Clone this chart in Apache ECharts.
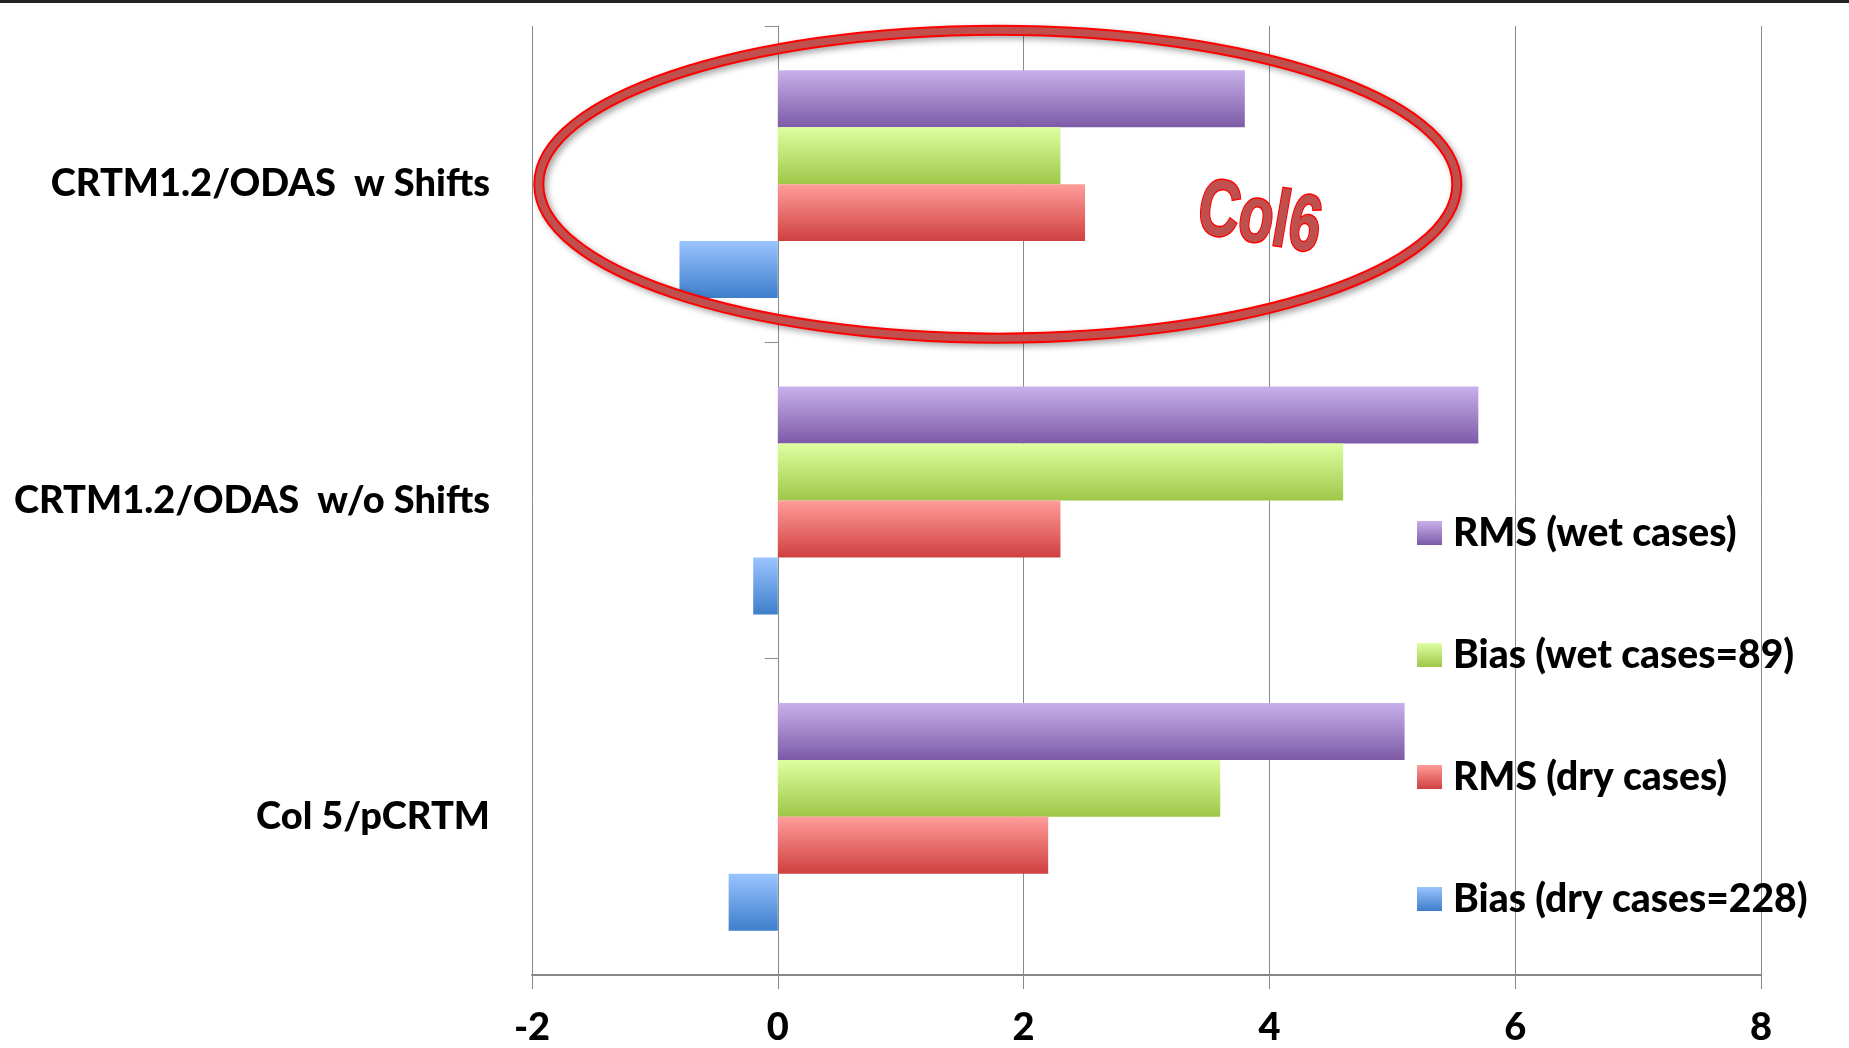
<!DOCTYPE html>
<html><head><meta charset="utf-8">
<script src="https://cdn.jsdelivr.net/npm/echarts@6/dist/echarts.min.js"></script>
<style>html,body{margin:0;padding:0;background:#fff}#c{width:1849px;height:1048px}</style>
</head><body><div id="c"></div>
<script>
// ---- data ----
const categories = ['Col 5/pCRTM', 'CRTM1.2/ODAS  w/o Shifts', 'CRTM1.2/ODAS  w Shifts'];
const rmsWet  = [5.1, 5.7, 3.8];
const biasWet = [3.6, 4.6, 2.3];
const rmsDry  = [2.2, 2.3, 2.5];
const biasDry = [-0.4, -0.2, -0.8];
const seriesNames = ['RMS (wet cases)', 'Bias (wet cases=89)', 'RMS (dry cases)', 'Bias (dry cases=228)'];
const xMin = -2, xMax = 8, xInterval = 2;
const annotationText = 'Col6';

// ---- styling ----
const FONT = 'Lato';
const WEIGHT = 900;
const grad = (a, b) => new echarts.graphic.LinearGradient(0, 0, 0, 1, [{offset: 0, color: a}, {offset: 1, color: b}]);
const colors = [
  grad('#c8b0ea', '#7d5aa7'),
  grad('#deffa0', '#9ec748'),
  grad('#ff9d9a', '#cf4040'),
  grad('#9ac4ff', '#3e7ecb')
];
const seriesData = [rmsWet, biasWet, rmsDry, biasDry];

const chart = echarts.init(document.getElementById('c'), null, {renderer: 'canvas'});
const option = {
  backgroundColor: '#fff',
  animation: false,
  grid: {left: 532, right: 88, top: 26, bottom: 73, containLabel: false},
  xAxis: {
    type: 'value', min: xMin, max: xMax, interval: xInterval,
    axisLine: {show: true, onZero: false, lineStyle: {color: '#878787', width: 2}},
    axisTick: {show: true, length: 14, lineStyle: {color: '#878787', width: 1}},
    axisLabel: {fontFamily: FONT, fontWeight: WEIGHT, fontSize: 38, color: '#000', margin: 34},
    splitLine: {show: true, lineStyle: {color: '#8a8a8a', width: 1}}
  },
  yAxis: [{
    type: 'category', data: categories,
    axisLine: {show: false, onZero: false},
    axisTick: {show: false},
    axisLabel: {fontFamily: FONT, fontWeight: WEIGHT, fontSize: 38, color: '#000', margin: 42}
  }, {
    type: 'category', data: categories, position: 'left',
    axisLine: {show: true, onZero: true, lineStyle: {color: '#8a8a8a', width: 1}},
    axisTick: {show: true, length: 13, lineStyle: {color: '#8a8a8a', width: 1}},
    axisLabel: {show: false}
  }],
  legend: {
    orient: 'vertical', left: 1417, top: 513, padding: 0,
    itemWidth: 25, itemHeight: 24, itemGap: 82,
    icon: 'rect',
    data: seriesNames,
    itemStyle: {shadowBlur: 0, shadowOffsetX: 0, shadowOffsetY: 0, shadowColor: 'rgba(0,0,0,0)'},
    textStyle: {fontFamily: FONT, fontWeight: WEIGHT, fontSize: 39, color: '#000', lineHeight: 40, padding: [0, 0, 0, 6]}
  },
  series: seriesNames.map((name, i) => ({
    name, type: 'bar', yAxisIndex: 0,
    data: seriesData[i],
    barCategoryGap: '28%', barGap: '0%',
    itemStyle: {color: colors[i], shadowBlur: 6, shadowOffsetX: 3, shadowOffsetY: 3, shadowColor: 'rgba(0,0,0,0.3)'}
  }))
};
chart.setOption(option);

// ---- annotation (ellipse + "Col6"), anchored in data coordinates ----
const ellCenter = chart.convertToPixel({xAxisIndex: 0, yAxisIndex: 0}, [1.79, 2]);
const ellRight = chart.convertToPixel({xAxisIndex: 0, yAxisIndex: 0}, [1.79 + 3.735, 2]);
const rx = ellRight[0] - ellCenter[0];
const ry = 154;
const txtPos = chart.convertToPixel({xAxisIndex: 0, yAxisIndex: 0}, [3.95, 2]);
chart.setOption({
  graphic: [
    {type: 'rect', left: 0, top: 0, z: 200, shape: {width: 1849, height: 3}, style: {fill: '#222'}},
    {type: 'ellipse', z: 100, shape: {cx: ellCenter[0], cy: ellCenter[1], rx: rx, ry: ry},
     style: {fill: 'none', stroke: '#ff0000', lineWidth: 11, shadowBlur: 6, shadowOffsetX: 3, shadowOffsetY: 3, shadowColor: 'rgba(0,0,0,0.35)'}},
    {type: 'ellipse', z: 101, shape: {cx: ellCenter[0], cy: ellCenter[1], rx: rx, ry: ry},
     style: {fill: 'none', stroke: '#c0504d', lineWidth: 7}},
    {type: 'text', z: 102, x: txtPos[0] - 4, y: ellCenter[1] + 36, rotation: -0.17, scaleY: 1.4,
     style: {text: annotationText, font: 'bold 57px "Liberation Sans Narrow", "Liberation Sans"', fill: '#c0504d', stroke: '#ff0000', lineWidth: 2,
             textAlign: 'center', textVerticalAlign: 'middle', shadowBlur: 4, shadowOffsetX: 2, shadowOffsetY: 2, shadowColor: 'rgba(0,0,0,0.3)'}}
  ]
});
</script>
</body></html>
